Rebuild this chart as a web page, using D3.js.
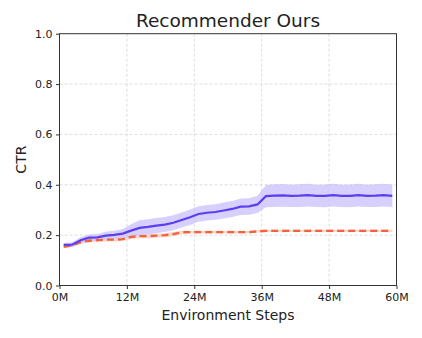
<!DOCTYPE html>
<html>
<head>
  <meta charset="UTF-8">
  <style>
    body { margin: 0; background: #fff; }
    text { font-family: "DejaVu Sans", sans-serif; fill: #222; }
  </style>
</head>
<body>
  <svg></svg>
<script src="https://d3js.org/d3.v7.min.js"></script>
<script>

    let width = 422;
    let height = 338;

    // steps in millions
    let steps = [0.75, 2.25, 3.75, 5.25, 6.75, 8.25, 9.75, 11.25, 12.75, 14.25,
      15.75, 17.25, 18.75, 20.25, 21.75, 23.25, 24.75, 26.25, 27.75, 29.25,
      30.75, 32.25, 33.75, 35.25, 36.75, 38.25, 39.75, 41.25, 42.75, 44.25,
      45.75, 47.25, 48.75, 50.25, 51.75, 53.25, 54.75, 56.25, 57.75, 59.25];

    let oursMean = [0.161, 0.162, 0.180, 0.190, 0.191, 0.198, 0.201, 0.206, 0.218, 0.229,
      0.233, 0.238, 0.242, 0.249, 0.260, 0.271, 0.284, 0.289, 0.292, 0.298,
      0.304, 0.313, 0.314, 0.322, 0.355, 0.357, 0.358, 0.356, 0.357, 0.359,
      0.356, 0.356, 0.359, 0.356, 0.356, 0.359, 0.356, 0.357, 0.359, 0.356];
    let oursErr = [0.008, 0.010, 0.012, 0.013, 0.014, 0.015, 0.016, 0.018, 0.025, 0.030,
      0.030, 0.030, 0.030, 0.030, 0.030, 0.031, 0.031, 0.031, 0.031, 0.032,
      0.032, 0.033, 0.033, 0.034, 0.044, 0.045, 0.045, 0.044, 0.045, 0.045,
      0.044, 0.045, 0.045, 0.044, 0.045, 0.045, 0.044, 0.045, 0.045, 0.044];

    let baseMean = [0.154, 0.160, 0.172, 0.178, 0.180, 0.182, 0.182, 0.184, 0.193, 0.196,
      0.196, 0.198, 0.200, 0.204, 0.211, 0.212, 0.212, 0.212, 0.212, 0.212,
      0.212, 0.212, 0.212, 0.215, 0.217, 0.217, 0.217, 0.217, 0.217, 0.217,
      0.217, 0.217, 0.217, 0.217, 0.217, 0.217, 0.217, 0.217, 0.217, 0.217];
    let baseErr = [0.006, 0.006, 0.007, 0.007, 0.007, 0.007, 0.007, 0.007, 0.008, 0.008,
      0.008, 0.008, 0.008, 0.008, 0.006, 0.005, 0.005, 0.005, 0.005, 0.005,
      0.005, 0.005, 0.005, 0.005, 0.005, 0.005, 0.005, 0.005, 0.005, 0.005,
      0.005, 0.005, 0.005, 0.005, 0.005, 0.005, 0.005, 0.005, 0.005, 0.005];

    let xTicks = [0, 12, 24, 36, 48, 60];
    let yTicks = [0, 0.2, 0.4, 0.6, 0.8, 1.0];

    let mLeft = 59.5, mRight = 396.5, mTop = 33.7, mBottom = 285.5;

    let svg = d3.select("svg")
        .attr("width", width)
        .attr("height", height);

    let x = d3.scaleLinear().domain([0, 60]).range([mLeft, mRight]);
    let y = d3.scaleLinear().domain([0, 1]).range([mBottom, mTop]);

    // grid
    svg.append("g").selectAll("line")
      .data(xTicks.slice(1, -1))
      .enter().append("line")
        .attr("x1", d => x(d)).attr("x2", d => x(d))
        .attr("y1", mTop).attr("y2", mBottom)
        .attr("stroke", "#d4d4d4").attr("stroke-width", 0.8)
        .attr("stroke-dasharray", "3,2");
    svg.append("g").selectAll("line")
      .data(yTicks.slice(1, -1))
      .enter().append("line")
        .attr("x1", mLeft).attr("x2", mRight)
        .attr("y1", d => y(d)).attr("y2", d => y(d))
        .attr("stroke", "#d4d4d4").attr("stroke-width", 0.8)
        .attr("stroke-dasharray", "3,2");

    function band(mean, err) {
      return d3.area()
        .x((d, i) => x(steps[i]))
        .y0((d, i) => y(mean[i] - err[i]))
        .y1((d, i) => y(mean[i] + err[i]))(mean);
    }
    let line = d3.line().x((d, i) => x(steps[i])).y(d => y(d));

    svg.append("path").attr("d", band(baseMean, baseErr))
      .attr("fill", "#f9c9bb").attr("opacity", 0.7);
    svg.append("path").attr("d", band(oursMean, oursErr))
      .attr("fill", "#c9bffb").attr("opacity", 0.75);

    svg.append("path").attr("d", line(baseMean))
      .attr("fill", "none").attr("stroke", "#f4623a")
      .attr("stroke-width", 2.4).attr("stroke-dasharray", "7,4");
    svg.append("path").attr("d", line(oursMean))
      .attr("fill", "none").attr("stroke", "#5a3ff0")
      .attr("stroke-width", 2.2);

    // axes
    let xAxis = svg.append("g")
      .attr("transform", "translate(0," + mBottom + ")")
      .call(d3.axisBottom(x).tickValues(xTicks).tickFormat(d => d + "M").tickSize(3.5).tickPadding(4));
    let yAxis = svg.append("g")
      .attr("transform", "translate(" + mLeft + ",0)")
      .call(d3.axisLeft(y).tickValues(yTicks).tickFormat(d3.format(".1f")).tickSize(3.5).tickPadding(3.5));
    [xAxis, yAxis].forEach(a => {
      a.select(".domain").remove();
      a.selectAll("line").attr("stroke", "#333");
      a.selectAll("text").attr("font-size", 11).attr("font-family", "DejaVu Sans").attr("fill", "#222");
    });

    svg.append("rect")
      .attr("x", mLeft).attr("y", mTop)
      .attr("width", mRight - mLeft).attr("height", mBottom - mTop)
      .attr("fill", "none").attr("stroke", "#333").attr("stroke-width", 1);

    svg.append("text")
      .attr("x", (mLeft + mRight) / 2).attr("y", 27)
      .attr("text-anchor", "middle").attr("font-size", 18.5)
      .text("Recommender Ours");
    svg.append("text")
      .attr("x", (mLeft + mRight) / 2).attr("y", 319.5)
      .attr("text-anchor", "middle").attr("font-size", 14)
      .text("Environment Steps");
    svg.append("text")
      .attr("transform", "translate(25.5," + ((mTop + mBottom) / 2) + ") rotate(-90)")
      .attr("text-anchor", "middle").attr("font-size", 14)
      .text("CTR");

</script>
</body>
</html>
